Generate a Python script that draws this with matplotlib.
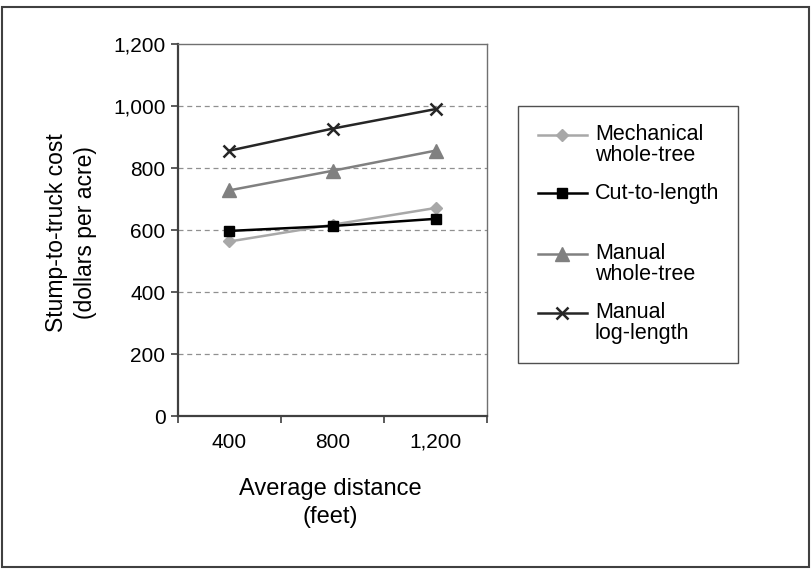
import matplotlib
matplotlib.use("Agg")
import matplotlib.pyplot as plt
from matplotlib.lines import Line2D
from matplotlib.patches import Rectangle

plt.rcParams['font.family'] = ['Liberation Sans', 'DejaVu Sans']

categories = ["400", "800", "1,200"]
series_names = ["Mechanical\nwhole-tree", "Cut-to-length", "Manual\nwhole-tree", "Manual\nlog-length"]
mechanical_whole_tree = [563, 617, 671]
cut_to_length = [597, 613, 636]
manual_whole_tree = [728, 791, 856]
manual_log_length = [856, 927, 990]
y_ticks = [0, 200, 400, 600, 800, 1000, 1200]
y_tick_labels = ["0", "200", "400", "600", "800", "1,000", "1,200"]

W, H = 812, 572
fig = plt.figure(figsize=(W / 100, H / 100), dpi=100)

def fx(px):
    return px / W

def fy(py):
    return 1 - py / H

# outer frame
fig.add_artist(Rectangle((fx(2), fy(567)), fx(807), (565 - 5) / H, transform=fig.transFigure,
                         fill=False, edgecolor="#404040", linewidth=1.5))

ax = fig.add_axes([fx(178), fy(416), fx(487 - 178), (416 - 44) / H])

styles = [
    dict(color="#a8a8a8", marker="D", markersize=6.5, markerfacecolor="#a8a8a8", markeredgecolor="#a8a8a8"),
    dict(color="#000000", marker="s", markersize=7, markerfacecolor="#000000", markeredgecolor="#000000"),
    dict(color="#808080", marker="^", markersize=10, markerfacecolor="#808080", markeredgecolor="#808080"),
    dict(color="#262626", marker="x", markersize=9, markeredgewidth=1.8),
]
data = [mechanical_whole_tree, cut_to_length, manual_whole_tree, manual_log_length]
xs = list(range(len(categories)))
handles = []
for vals, st in zip(data, styles):
    h, = ax.plot(xs, vals, linewidth=1.8, **st, zorder=3)
    handles.append(h)

ax.set_xlim(-0.5, len(categories) - 0.5)
ax.set_ylim(0, 1200)
ax.set_yticks(y_ticks)
ax.set_yticklabels(y_tick_labels, fontsize=15)
ax.set_xticks(xs)
ax.set_xticklabels(categories, fontsize=15)
ax.set_xticks([-0.5, 0.5, 1.5, 2.5], minor=True)
ax.tick_params(axis='x', which='major', length=0, pad=12)
ax.tick_params(axis='x', which='minor', length=5, width=1.2, color="#404040", direction='out')
ax.tick_params(axis='y', length=5, width=1.2, color="#404040", direction='out', pad=4)

for v in y_ticks[1:-1]:
    ax.axhline(v, color="#909090", linestyle=(0, (4, 3)), linewidth=0.9, zorder=1)

for s in ["left", "bottom"]:
    ax.spines[s].set_color("#404040")
    ax.spines[s].set_linewidth(1.6)
for s in ["top", "right"]:
    ax.spines[s].set_color("#707070")
    ax.spines[s].set_linewidth(1.0)

fig.text(fx(71), fy(233), "Stump-to-truck cost\n(dollars per acre)", rotation=90,
         ha="center", va="center", fontsize=16.5, linespacing=1.3)
fig.text(fx(330), fy(503), "Average distance\n(feet)", ha="center", va="center",
         fontsize=17, linespacing=1.35)

# legend box
fig.add_artist(Rectangle((fx(518), fy(363)), fx(738 - 518), (363 - 106) / H, transform=fig.transFigure,
                         fill=False, edgecolor="#505050", linewidth=1.0))
entry_y = [145, 193, 264, 323]
for h, name, yy, st in zip(handles, series_names, entry_y, styles):
    line_y = yy - 10 if "\n" in name else yy
    fig.add_artist(Line2D([fx(538), fx(587)], [fy(line_y), fy(line_y)], transform=fig.transFigure,
                          color=h.get_color(), linewidth=1.8))
    fig.add_artist(Line2D([fx(562.5)], [fy(line_y)], transform=fig.transFigure,
                          **{k: v for k, v in st.items() if k != "color"},
                          color=h.get_color(), linestyle="none"))
    fig.text(fx(595), fy(yy), name, ha="left", va="center", fontsize=15.5, linespacing=1.0)

fig.savefig("out.png", dpi=100)
